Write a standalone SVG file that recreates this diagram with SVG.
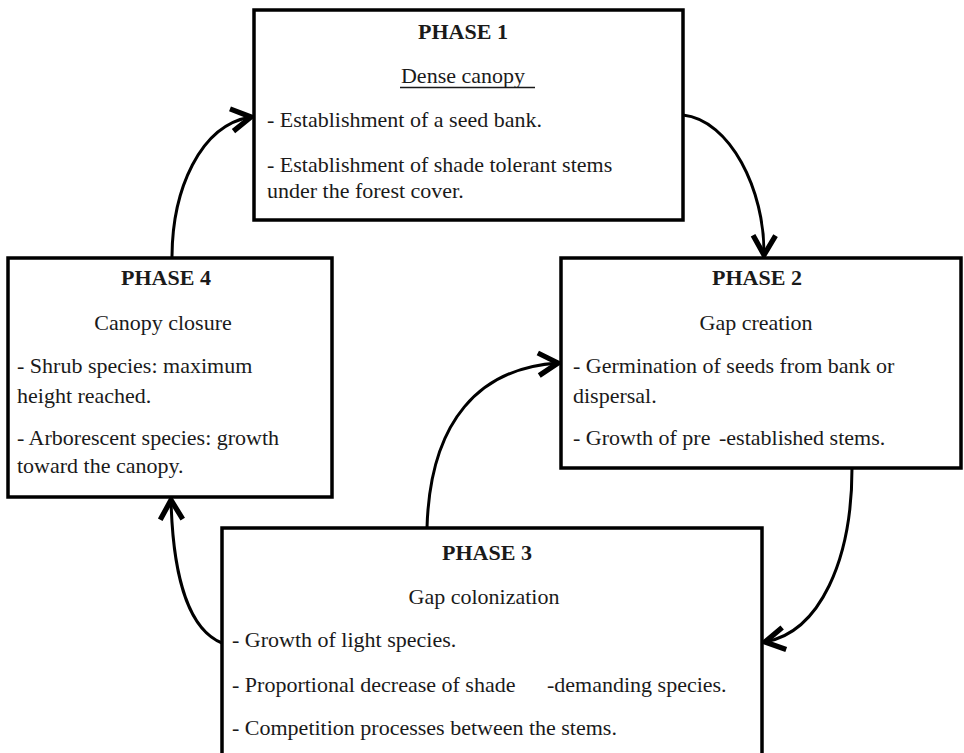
<svg xmlns="http://www.w3.org/2000/svg" width="964" height="753" viewBox="0 0 964 753">
<style>
.box{fill:#fff;stroke:#000;stroke-width:3.5}
.t{font-family:"Liberation Serif","Times New Roman",serif;font-size:22px;fill:#1a1a1a}
.h{font-weight:bold;text-anchor:middle}
.c{text-anchor:middle}
.con{fill:none;stroke:#000;stroke-width:3}
</style>
<defs>
<marker id="ah" markerUnits="userSpaceOnUse" markerWidth="30" markerHeight="30" viewBox="-16 -10 20 20" refX="0" refY="0" orient="auto">
<path d="M-13,-7.5 L0,0 L-13,7.5" fill="none" stroke="#000" stroke-width="3.5" stroke-linejoin="miter"/>
</marker>
</defs>
<rect width="964" height="753" fill="#fff"/>
<g id="connectors">
<path class="con" d="M172,258 C172,190 200,125 251,117" marker-end="url(#ah)"/>
<path class="con" d="M683,115 C730,120 765,190 764,255" marker-end="url(#ah)"/>
<path class="con" d="M852,468 C852,560 820,632 765,642" marker-end="url(#ah)"/>
<path class="con" d="M222,643 C190,630 173,580 171,500" marker-end="url(#ah)"/>
<path class="con" d="M427,528 C430,420 480,368 558,363" marker-end="url(#ah)"/>
</g>
<g id="phase1">
<rect class="box" x="254" y="10" width="429" height="210"/>
<text class="t h" x="463" y="39">PHASE 1</text>
<text class="t c" x="463" y="83">Dense canopy</text>
<line x1="400" y1="87.5" x2="535" y2="87.5" stroke="#1a1a1a" stroke-width="1.5"/>
<text class="t" x="267" y="127">- Establishment of a seed bank.</text>
<text class="t" x="267" y="172">- Establishment of shade tolerant stems</text>
<text class="t" x="267" y="198">under the forest cover.</text>
</g>
<g id="phase2">
<rect class="box" x="561" y="258" width="400" height="210"/>
<text class="t h" x="757" y="285">PHASE 2</text>
<text class="t c" x="756" y="330">Gap creation</text>
<text class="t" x="573" y="373">- Germination of seeds from bank or</text>
<text class="t" x="573" y="403">dispersal.</text>
<text class="t" x="573" y="445">- Growth of pre<tspan x="719">-established stems.</tspan></text>
</g>
<g id="phase4">
<rect class="box" x="8" y="258" width="324" height="239"/>
<text class="t h" x="166" y="285">PHASE 4</text>
<text class="t c" x="163" y="330">Canopy closure</text>
<text class="t" x="17" y="373">- Shrub species: maximum</text>
<text class="t" x="17" y="403">height reached.</text>
<text class="t" x="17" y="445">- Arborescent species: growth</text>
<text class="t" x="17" y="473">toward the canopy.</text>
</g>
<g id="phase3">
<rect class="box" x="222" y="528" width="540" height="240"/>
<text class="t h" x="487" y="560">PHASE 3</text>
<text class="t c" x="484" y="604">Gap colonization</text>
<text class="t" x="232" y="647">- Growth of light species.</text>
<text class="t" x="232" y="692">- Proportional decrease of shade<tspan x="547">-demanding species.</tspan></text>
<text class="t" x="232" y="735">- Competition processes between the stems.</text>
</g>
</svg>
